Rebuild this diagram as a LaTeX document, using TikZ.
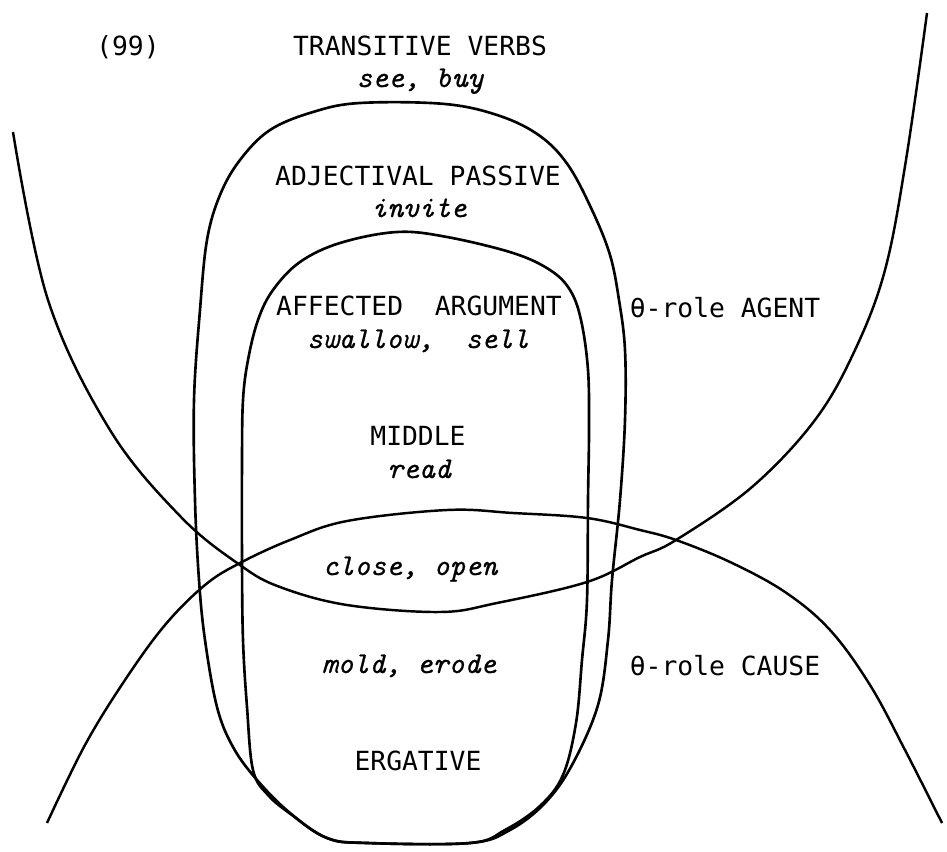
\documentclass[tikz,border=0pt]{standalone}
\usepackage{fontspec}
\setmonofont{DejaVu Sans Mono}
\newfontfamily\exfont{lmmono10-italic.otf}[FakeBold=0.7]
\usetikzlibrary{positioning}
\begin{document}
\begin{tikzpicture}[
          x=0.02cm,y=-0.02cm,
          classnode/.style={font=\fontsize{15}{18}\selectfont\ttfamily,inner sep=0pt,anchor=base},
          verbnode/.style={font=\fontsize{17.2}{20}\selectfont\exfont,inner sep=0pt,anchor=base},
          setline/.style={line width=1.5pt,line join=round},
          roleline/.style={line width=1.4pt}
          ]
          \useasboundingbox (0,0) rectangle (947,852);
          % the classes
          \node[classnode] (num) at (128,55) {(99)};
          \foreach \i/\xc/\yc/\txt in {trans/420/55/TRANSITIVE VERBS, adj/418/185/ADJECTIVAL PASSIVE,
              aff/419/315/AFFECTED~~ARGUMENT, mid/418/445/MIDDLE, erg/418/770/ERGATIVE}
            \node[classnode] (\i) at (\xc,\yc) {\txt};
          % the verbs
          \foreach \i/\xc/\yc/\txt in {transex/420/87/{see, buy}, adjex/419/217/invite,
              affex/418/348/{swallow,~~sell}, midex/419/478/read, closeex/410/575/{close, open},
              moldex/409/673/{mold, erode}}
            \node[verbnode] (\i) at (\xc,\yc) {\txt};
          % the theta roles
          \node[classnode] (agent) at (725,317) {θ-role AGENT};
          \node[classnode] (cause) at (725,675) {θ-role CAUSE};
          % the set of adjectival passives
          \draw[setline] plot[smooth cycle,tension=0.6] coordinates {(360,103) (445,104) (500,116)
              (540,136) (568,165) (592,210) (610,255) (619,300) (625,350) (625,420) (620,500)
              (612,580) (608,640) (598,705) (572,765) (545,803) (510,830) (470,843) (367,843)
              (327,838) (290,813) (257,780) (233,747) (217,707) (205,640) (199,580) (195,500)
              (194,400) (200,310) (207,240) (220,195) (240,160) (270,130) (313,112)};
          % the set of affected arguments
          \draw[setline] plot[smooth cycle,tension=0.6] coordinates {(397,232) (447,237) (513,253)
              (550,270) (570,290) (581,320) (588,370) (589,430) (588,500) (587,600) (582,660)
              (576,723) (563,775) (540,806) (505,830) (470,843) (367,843) (327,838) (292,815)
              (268,795) (253,770) (247,707) (243,640) (242,560) (242,460) (243,400) (248,360)
              (258,320) (273,290) (300,262) (340,243)};
          % the agent curve
          \draw[roleline] plot[smooth,tension=0.6] coordinates {(13,132) (48,300) (110,430)
              (181,517) (240,565) (280,587) (347,605) (440,612) (497,603) (587,582) (640,557)
              (676,540) (752,487) (815,420) (855,350) (885,270) (906,160) (927,13)};
          % the cause curve
          \draw[roleline] plot[smooth,tension=0.6] coordinates {(47,823) (85,745) (125,680)
              (165,625) (205,585) (240,563) (290,540) (347,521) (447,510) (513,513) (587,518)
              (640,530) (676,540) (730,562) (785,592) (830,630) (870,685) (905,750) (942,823)};
        \end{tikzpicture}
\end{document}
